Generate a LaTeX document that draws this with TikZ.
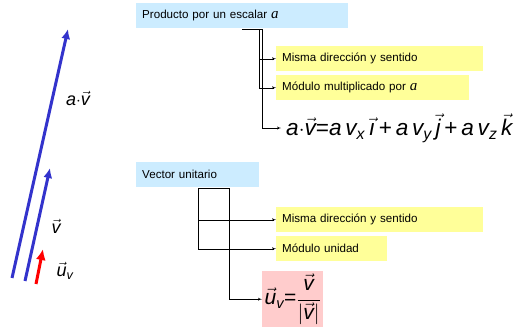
\documentclass[tikz,border=0pt]{standalone}
\usepackage{fontspec}
\setmainfont{Liberation Sans}
\newfontfamily\timesfont{Liberation Serif}
\usetikzlibrary{arrows}
\usetikzlibrary{arrows.meta}
\usetikzlibrary{positioning}
\definecolor{boxblue}{RGB}{204,236,255}
\definecolor{noteyellow}{RGB}{255,255,153}
\definecolor{notepink}{RGB}{255,204,204}
\definecolor{vecblue}{RGB}{51,51,204}
\newcommand\vecit[1]{\ensuremath{\vec{\mbox{\itshape #1}}}}
\newcommand\scal{{\timesfont\itshape\fontsize{15}{15}\selectfont a}}
\tikzset{titlebox/.style = {fill=boxblue, anchor=north west, minimum height=25pt,
                            inner xsep=6pt, align=left, font=\fontsize{11.6}{13}\selectfont},
         notebox/.style = {titlebox, fill=noteyellow},
         conn/.style = {-latex', thin},
         vecline/.style = {line width=3pt, -{Latex[length=10pt,width=9pt]}}}

\begin{document}
\begin{tikzpicture}[x=1pt, y=-1pt]
    \useasboundingbox (0,0) rectangle (516,327);

    % vectores
    \draw [vecline, vecblue] (12,278) -- (68,29);
    \draw [vecline, vecblue] (25,281) -- (50,168);
    \draw [vecline, red, -{Latex[length=11pt,width=10pt]}] (36,284) -- (43,249);
    \node (lav) at (78,98) {\fontsize{18}{18}\selectfont\itshape a$\cdot$\vecit{v}};
    \node (lv) at (56,226) {\fontsize{18}{18}\selectfont\vecit{v}};
    \node (lu) at (65,271) {\fontsize{18}{18}\selectfont\vecit{u}\textsubscript{\itshape v}};

    % producto por un escalar
    \node [titlebox, text width=200pt] (prod) at (136,3) {Producto por un escalar \scal};
    \node [notebox, text width=195pt] (dir1) at (276,46) {Misma direcci\'on y sentido};
    \node [notebox, text width=181pt] (mod1) at (276,75) {M\'odulo multiplicado por \scal};
    \node [anchor=west, inner xsep=5pt, inner ysep=1pt] (prodf) at (281,128)
      {\fontsize{22.6}{23}\selectfont\itshape a$\cdot$\vecit{v}\upshape=\itshape a\,v\textsubscript{x}\,\vecit{\i}\upshape\,+\,\itshape a\,v\textsubscript{y}\,\vecit{j}\upshape\,+\,\itshape a\,v\textsubscript{z}\,\vecit{k}};

    \coordinate (p0) at (242,29);
    \coordinate (p1) at (259,29);
    \coordinate (p2) at (262,29);
    \draw (p0) -- (p2);
    \draw [conn] (p1) |- (dir1.west);
    \draw [conn] (p1) |- (mod1.west);
    \draw [conn] (p2) |- (prodf.west);

    % vector unitario
    \node [titlebox, text width=111pt] (unit) at (136,162) {Vector unitario};
    \node [notebox, text width=195pt] (dir2) at (276,207) {Misma direcci\'on y sentido};
    \node [notebox, text width=99pt] (mod2) at (276,236) {M\'odulo unidad};
    \node [fill=notepink, anchor=north west, minimum width=61pt, minimum height=56pt, inner sep=0pt] (unitf) at (262,271)
      {\fontsize{21}{21}\selectfont\vecit{u}\textsubscript{\itshape v}=$\displaystyle\frac{\vecit{v}}{|\vecit{v}|}$};

    \coordinate (u0) at (198,188);
    \coordinate (u1) at (229,188);
    \draw (u0) -- (u1);
    \draw [conn] (u0) |- (dir2.west);
    \draw [conn] (u0) |- (mod2.west);
    \draw [conn] (u1) |- (unitf.west);
\end{tikzpicture}
\end{document}
